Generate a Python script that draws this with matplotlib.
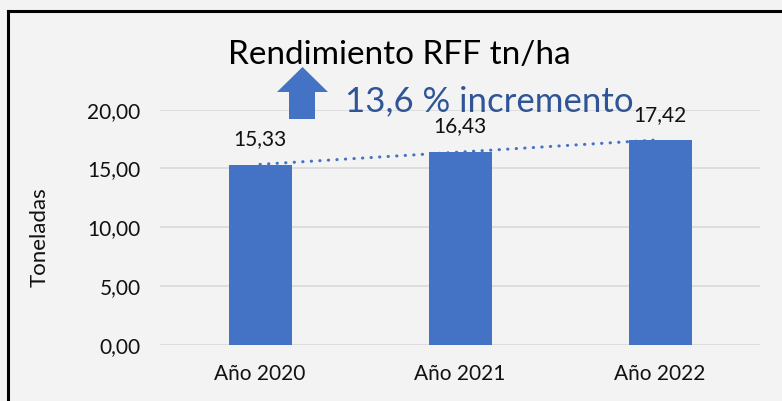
import matplotlib.pyplot as plt
import numpy as np
from matplotlib.patches import Polygon
from matplotlib.lines import Line2D

# data
categorias = ["Año 2020", "Año 2021", "Año 2022"]
rendimiento = [15.33, 16.43, 17.42]
etiquetas = ["15,33", "16,43", "17,42"]
yticks = [0, 5, 10, 15, 20]
ytick_labels = ["0,00", "5,00", "10,00", "15,00", "20,00"]

plt.rcParams["font.family"] = ["Lato", "DejaVu Sans"]

W, H = 782, 401
fig = plt.figure(figsize=(W / 100, H / 100), dpi=100)
fig.patch.set_facecolor("#f3f3f3")

def fx(px):
    return px / W

def fy(py):
    return (H - py) / H

ax = fig.add_axes([fx(160), fy(345), fx(760) - fx(160), fy(109.6) - fy(345)])
ax.set_facecolor("none")

x = np.arange(len(categorias))
ax.bar(x, rendimiento, width=0.315, color="#4472C4", zorder=2)

# linear trendline
m, b = np.polyfit(x, rendimiento, 1)
ax.plot(x, m * x + b, color="#4472C4", lw=2.2, linestyle=(0, (0.1, 2.7)),
        dash_capstyle="round", zorder=3)

for xi, v, t in zip(x, rendimiento, etiquetas):
    ax.annotate(t, (xi, v), xytext=(0, 11), textcoords="offset points",
                ha="center", va="bottom", fontsize=15, color="#111111",
                annotation_clip=False)

ax.set_xlim(-0.5, 2.5)
ax.set_ylim(0, 20)
ax.set_yticks(yticks)
ax.set_yticklabels(ytick_labels)
ax.set_xticks(x)
ax.set_xticklabels(categorias)
ax.tick_params(length=0, labelsize=15, labelcolor="#111111")
ax.tick_params(axis="y", pad=14)
ax.tick_params(axis="x", pad=14)
ax.grid(axis="y", color="#d9d9d9", lw=1.2, zorder=0)
for s in ax.spines.values():
    s.set_visible(False)

fig.text(fx(40), fy(237), "Toneladas", rotation=90, ha="center", va="center",
         fontsize=16, color="#111111")

# title and note
fig.text(fx(399), fy(55), "Rendimiento RFF tn/ha", ha="center", va="center",
         fontsize=24, color="#000000")
fig.text(fx(345), fy(101), "13,6 % incremento", ha="left", va="center",
         fontsize=25, color="#2F5597")

# up arrow
pts = [(277, 92), (302.5, 67), (328, 92), (315, 92), (315, 119), (289, 119), (289, 92)]
fig.patches.append(Polygon([(fx(a), fy(c)) for a, c in pts], closed=True,
                           transform=fig.transFigure, facecolor="#4472C4",
                           edgecolor="none", figure=fig))

# border lines (left and top)
fig.add_artist(Line2D([fx(8), fx(8)], [fy(11), fy(401)], color="black", lw=2.2,
                      transform=fig.transFigure))
fig.add_artist(Line2D([fx(8), fx(782)], [fy(11), fy(11)], color="black", lw=2.2,
                      transform=fig.transFigure))

fig.savefig("out.png", dpi=100, facecolor=fig.get_facecolor())
